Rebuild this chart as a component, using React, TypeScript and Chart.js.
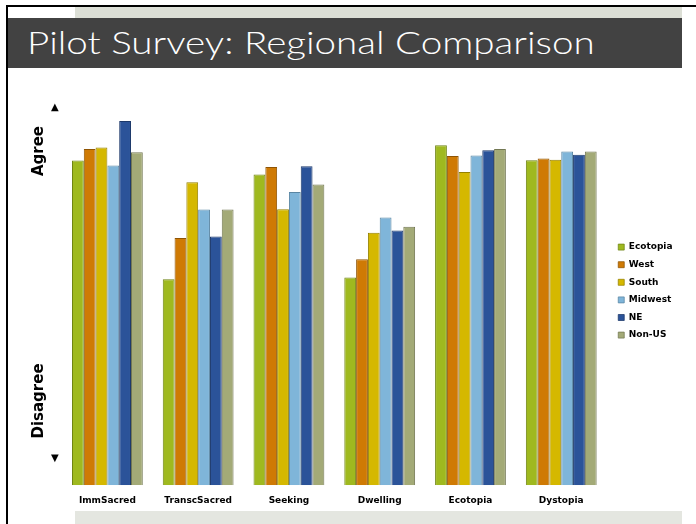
import { useEffect, useRef } from "react";
import { Chart, registerables } from "chart.js";

Chart.register(...registerables);

const categories = ["ImmSacred", "TranscSacred", "Seeking", "Dwelling", "Ecotopia", "Dystopia"];
const seriesNames = ["Ecotopia", "West", "South", "Midwest", "NE", "Non-US"];
const ecotopiaValues = [8.54, 5.42, 8.17, 5.46, 8.94, 8.55];
const westValues = [8.84, 6.5, 8.37, 5.94, 8.66, 8.59];
const southValues = [8.88, 7.97, 7.26, 6.64, 8.24, 8.56];
const midwestValues = [8.41, 7.25, 7.71, 7.04, 8.67, 8.78];
const neValues = [9.58, 6.54, 8.39, 6.7, 8.81, 8.69];
const nonUsValues = [8.76, 7.25, 7.91, 6.8, 8.84, 8.78];
const seriesValues = [ecotopiaValues, westValues, southValues, midwestValues, neValues, nonUsValues];
const fillColors = ["#9fb91f", "#cf7a04", "#d5b800", "#7fb5d9", "#2b5399", "#a3aa77"];
const edgeColors = ["#6f8415", "#8f5403", "#958100", "#5a86a3", "#1c386a", "#737853"];

const FONT = "'DejaVu Sans', sans-serif";

const legendNudge = {
  id: "legendNudge",
  afterLayout(chart: any) {
    const lg = chart.legend;
    if (!lg) return;
    lg.left += 3;
    lg.right += 3;
    lg.top -= 4;
    lg.bottom -= 4;
  },
};

export default function App() {
  const canvasRef = useRef<HTMLCanvasElement | null>(null);

  useEffect(() => {
    document.body.style.margin = "0";
    const canvas = canvasRef.current;
    if (!canvas) return;
    const chart = new Chart(canvas, {
      type: "bar",
      data: {
        labels: categories,
        datasets: seriesNames.map((name, i) => ({
          label: name,
          data: seriesValues[i],
          backgroundColor: fillColors[i],
          borderColor: edgeColors[i],
          borderWidth: { top: 1, left: 1, right: 1, bottom: 0 },
          borderSkipped: false,
          categoryPercentage: 0.78,
          barPercentage: 1,
        })),
      },
      options: {
        animation: false,
        responsive: true,
        maintainAspectRatio: false,
        layout: { padding: { left: 54, top: 35, right: 16.5, bottom: 8 } },
        plugins: {
          tooltip: { enabled: false },
          legend: {
            position: "right",
            fullSize: false,
            labels: {
              boxWidth: 6,
              boxHeight: 6,
              padding: 8.6,
              color: "#000",
              font: { family: FONT, size: 9, weight: "bold" },
            },
          },
        },
        scales: {
          x: {
            grid: { display: false, drawTicks: false },
            border: { display: false },
            ticks: {
              color: "#000",
              padding: 10,
              maxRotation: 0,
              font: { family: FONT, size: 9, weight: "bold" },
            },
          },
          y: {
            display: false,
            min: 0,
            max: 10,
          },
        },
      },
      plugins: [legendNudge],
    });
    return () => chart.destroy();
  }, []);

  return (
    <div style={{ position: "fixed", left: 0, top: 0, width: 696, height: 524, background: "#fff", overflow: "hidden" }}>
      <div style={{ position: "absolute", left: 6, top: 5, width: 690, height: 2, background: "#000" }} />
      <div style={{ position: "absolute", left: 6, top: 5, width: 2, height: 519, background: "#000" }} />
      <div style={{ position: "absolute", left: 75, top: 7, width: 607, height: 11, background: "#dcdfd6" }} />
      <div style={{ position: "absolute", left: 8, top: 18, width: 674, height: 50, background: "#424242" }} />
      <div
        style={{
          position: "absolute",
          left: 27,
          top: 22,
          color: "#fff",
          fontFamily: "Lato, 'Open Sans', sans-serif",
          fontWeight: 300,
          fontSize: 31,
          lineHeight: "40px",
          whiteSpace: "nowrap",
          transform: "scaleX(1.245)",
          transformOrigin: "0 50%",
        }}
      >
        Pilot Survey: Regional Comparison
      </div>
      <div style={{ position: "absolute", left: 75, top: 511, width: 607, height: 13, background: "#e4e6e0" }} />
      <div style={{ position: "absolute", left: 8, top: 70, width: 688, height: 454 }}>
        <canvas ref={canvasRef} />
      </div>
      <div
        style={{
          position: "absolute",
          left: 38,
          top: 151,
          transform: "translate(-50%, -50%) rotate(-90deg)",
          fontFamily: FONT,
          fontWeight: "bold",
          fontSize: 15,
          color: "#000",
          whiteSpace: "nowrap",
        }}
      >
        Agree
      </div>
      <div
        style={{
          position: "absolute",
          left: 38,
          top: 401,
          transform: "translate(-50%, -50%) rotate(-90deg)",
          fontFamily: FONT,
          fontWeight: "bold",
          fontSize: 15,
          color: "#000",
          whiteSpace: "nowrap",
        }}
      >
        Disagree
      </div>
      <div style={{ position: "absolute", left: 51, top: 100, fontFamily: FONT, fontSize: 10, lineHeight: "14px", color: "#000" }}>▲</div>
      <div style={{ position: "absolute", left: 51, top: 451, fontFamily: FONT, fontSize: 10, lineHeight: "14px", color: "#000" }}>▼</div>
    </div>
  );
}
